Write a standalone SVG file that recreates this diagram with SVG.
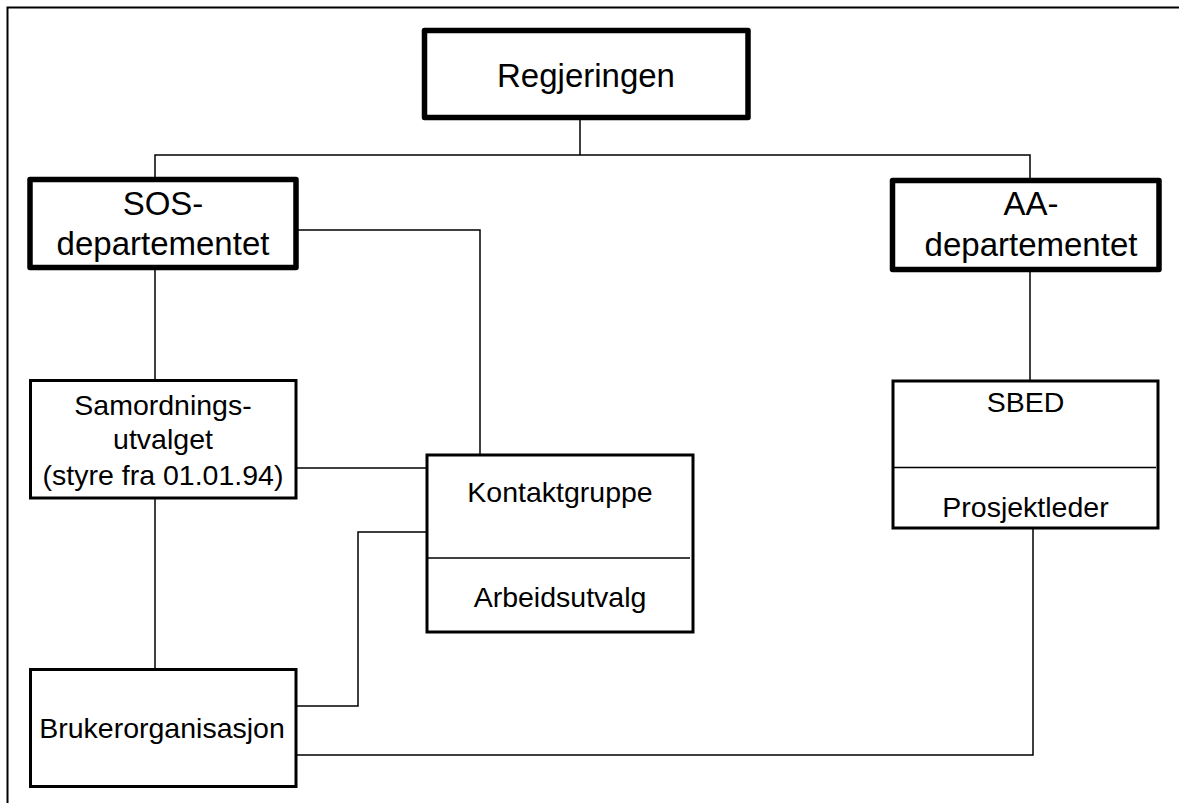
<svg xmlns="http://www.w3.org/2000/svg" width="1179" height="803" viewBox="0 0 1179 803">
  <style>
    .frame { fill: none; stroke: #000; stroke-width: 2; }
    .heavy { fill: #fff; stroke: #000; stroke-width: 5.5; stroke-linejoin: round; }
    .box { fill: #fff; stroke: #000; stroke-width: 3; }
    .divider { stroke: #000; stroke-width: 1.5; }
    .link { fill: none; stroke: #000; stroke-width: 1.5; }
    text { font-family: "Liberation Sans", Arial, sans-serif; fill: #000; text-anchor: middle; }
    .big { font-size: 33px; }
    .mid { font-size: 28.5px; }
  </style>

  <!-- page frame (top and left edges only) -->
  <path class="frame" d="M7.5,803 V7.5 H1179"/>

  <g id="connectors">
    <path class="link" d="M580,120 V155"/>
    <path class="link" d="M155,179 V155 H1030 V180"/>
    <path class="link" d="M296,230 H480 V455"/>
    <path class="link" d="M155,268 V380"/>
    <path class="link" d="M1030,269 V381"/>
    <path class="link" d="M296,468 H427"/>
    <path class="link" d="M155,498 V669"/>
    <path class="link" d="M296,706 H358 V532 H427"/>
    <path class="link" d="M296,755 H1033 V528"/>
  </g>

  <g id="regjeringen">
    <rect class="heavy" x="424.5" y="30.5" width="323.5" height="87"/>
    <text class="big" x="586" y="87">Regjeringen</text>
  </g>

  <g id="sos-departementet">
    <rect class="heavy" x="30" y="179.5" width="266" height="88"/>
    <text class="big" x="163" y="215">SOS-</text>
    <text class="big" x="163" y="255">departementet</text>
  </g>

  <g id="aa-departementet">
    <rect class="heavy" x="892.5" y="180.5" width="266.5" height="89"/>
    <text class="big" x="1031" y="215">AA-</text>
    <text class="big" x="1031" y="256">departementet</text>
  </g>

  <g id="samordningsutvalget">
    <rect class="box" x="30.5" y="380.5" width="265.5" height="117.5"/>
    <text class="mid" x="163" y="415">Samordnings-</text>
    <text class="mid" x="163" y="449">utvalget</text>
    <text class="mid" x="163" y="485">(styre fra 01.01.94)</text>
  </g>

  <g id="kontaktgruppe">
    <rect class="box" x="427" y="455" width="266" height="177"/>
    <line class="divider" x1="427" y1="558" x2="690" y2="558"/>
    <text class="mid" x="560" y="502">Kontaktgruppe</text>
    <text class="mid" x="560" y="607">Arbeidsutvalg</text>
  </g>

  <g id="sbed">
    <rect class="box" x="893" y="381" width="265" height="147"/>
    <line class="divider" x1="893" y1="467.5" x2="1156" y2="467.5"/>
    <text class="mid" x="1025.5" y="412">SBED</text>
    <text class="mid" x="1025.5" y="517">Prosjektleder</text>
  </g>

  <g id="brukerorganisasjon">
    <rect class="box" x="30.5" y="669.5" width="265.5" height="117"/>
    <text class="mid" x="162" y="738">Brukerorganisasjon</text>
  </g>
</svg>
